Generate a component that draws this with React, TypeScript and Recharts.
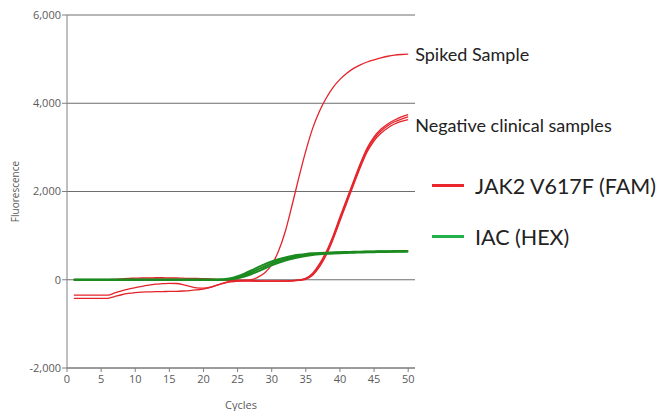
import React from 'react';
import { LineChart, Line, XAxis, YAxis, CartesianGrid, ReferenceDot } from 'recharts';

const cycles = [1,2,3,4,5,6,7,8,9,10,11,12,13,14,15,16,17,18,19,20,21,22,23,24,25,26,27,28,29,30,31,32,33,34,35,36,37,38,39,40,41,42,43,44,45,46,47,48,49,50];

const spiked = [0,0,0,0,0,0,10,20,30,35,40,40,45,45,40,40,35,30,30,25,20,10,0,-20,-30,-20,0,60,160,340,650,1100,1700,2330,2920,3430,3820,4120,4360,4540,4680,4790,4870,4935,4985,5030,5065,5090,5105,5115];

const neg1 = [0,0,0,0,0,0,0,5,5,10,10,10,15,15,10,10,5,5,0,0,-5,-10,-15,-20,-25,-30,-30,-30,-30,-30,-30,-30,-25,-10,30,150,360,640,1000,1420,1830,2240,2640,2990,3240,3410,3530,3620,3690,3740];

const neg2 = [-350,-350,-350,-350,-350,-350,-300,-250,-210,-180,-150,-120,-100,-90,-80,-85,-110,-150,-185,-190,-170,-120,-70,-30,-10,-10,-20,-30,-30,-30,-30,-25,-20,-5,30,130,330,600,960,1380,1790,2200,2600,2950,3200,3370,3490,3580,3640,3690];

const neg3 = [-420,-420,-420,-420,-420,-420,-380,-340,-310,-290,-280,-275,-270,-268,-265,-262,-255,-245,-230,-210,-170,-120,-80,-50,-30,-20,-20,-25,-30,-30,-30,-30,-25,-15,10,100,290,560,920,1330,1740,2150,2550,2900,3150,3320,3440,3530,3590,3630];

const iac1 = [0,0,0,0,0,0,0,0,0,0,0,0,0,0,0,0,0,0,0,0,0,0,0,20,55,105,165,235,305,370,425,470,510,540,565,582,595,604,611,617,622,626,630,633,636,639,641,643,645,647];

const iac2 = [0,0,0,0,0,0,0,0,0,0,0,0,0,0,0,0,0,0,0,0,0,0,10,35,80,140,210,285,355,415,465,505,540,565,585,598,607,614,620,625,629,633,636,639,642,645,647,649,651,653];

const iac3 = [0,0,0,0,0,0,0,0,0,0,0,0,0,0,0,0,0,0,0,0,0,0,0,10,35,75,125,190,260,325,385,435,478,512,540,560,575,587,596,603,609,614,618,622,625,628,631,633,635,638];

const xTicks = [0,5,10,15,20,25,30,35,40,45,50];
const yTicks = [-2000,0,2000,4000,6000];

const legendItems = [
  { name: 'JAK2 V617F (FAM)', color: '#e8262c' },
  { name: 'IAC (HEX)', color: '#22b04a' },
];

const spikedLabel = 'Spiked Sample';
const negLabel = 'Negative clinical samples';
const negLabelValue = 3500;

const data = cycles.map((c, i) => ({
  cycle: c,
  spiked: spiked[i],
  neg1: neg1[i],
  neg2: neg2[i],
  neg3: neg3[i],
  iac1: iac1[i],
  iac2: iac2[i],
  iac3: iac3[i],
}));

const RED = '#e5232a';
const GREEN = '#1b8a1f';
const AXIS = '#808080';
const TICKFONT = { fontSize: 11, fill: '#5a5a5a', fontFamily: 'Open Sans, sans-serif' };

const fmt = (v: number) => v.toLocaleString('en-US');

const YLabel = (props: any) => {
  const vb = props.viewBox;
  const x = vb.x + 15;
  const y = vb.y + vb.height / 2;
  return (
    <text x={x} y={y} transform={`rotate(-90, ${x}, ${y})`} textAnchor="middle" dominantBaseline="central"
      fontSize={10} fill="#5a5a5a" fontFamily="Open Sans, sans-serif">Fluorescence</text>
  );
};

const XLabel = (props: any) => {
  const vb = props.viewBox;
  const x = vb.x + vb.width / 2;
  const y = vb.y + 36;
  return (
    <text x={x} y={y} textAnchor="middle" dominantBaseline="central"
      fontSize={11} fill="#5a5a5a" fontFamily="Open Sans, sans-serif">Cycles</text>
  );
};

const AnnoLabel = (text: string) => (props: any) => {
  const vb = props.viewBox;
  return (
    <text x={vb.x + 7} y={vb.y} dominantBaseline="central" fontSize={18} fill="#222"
      fontFamily="Lato, sans-serif">{text}</text>
  );
};

const LegendBlock = () => (
  <div style={{ position: 'absolute', left: 432, top: 160, width: 232, fontFamily: 'Lato, sans-serif', color: '#222' }}>
    {legendItems.map((it) => (
      <div key={it.name} style={{ display: 'flex', alignItems: 'center', height: 51 }}>
        <span style={{ display: 'inline-block', width: 32, height: 3, background: it.color, marginRight: 11 }} />
        <span style={{ fontSize: 21.5, lineHeight: '24px' }}>{it.name}</span>
      </div>
    ))}
  </div>
);

export default function App() {
  return (
    <div style={{ position: 'absolute', left: 0, top: 0, width: 664, height: 411, background: '#fff' }}>
      <LineChart width={664} height={411} data={data}
        margin={{ top: 15, right: 249, bottom: 13, left: 0 }}>
        <CartesianGrid vertical={false} stroke="#6e6e6e" strokeWidth={1} />
        <XAxis dataKey="cycle" type="number" domain={[0, 51]} ticks={xTicks} allowDataOverflow
          height={30} stroke={AXIS} tickSize={4} tickMargin={3} tick={TICKFONT}
          label={{ content: XLabel }} />
        <YAxis type="number" domain={[-2000, 6000]} ticks={yTicks} width={67} stroke={AXIS}
          tickSize={5} tickMargin={1} tick={TICKFONT} tickFormatter={fmt}
          label={{ content: YLabel }} />
        <Line dataKey="neg3" stroke={RED} strokeWidth={1.3} dot={false} type="monotone" isAnimationActive={false} />
        <Line dataKey="neg2" stroke={RED} strokeWidth={1.3} dot={false} type="monotone" isAnimationActive={false} />
        <Line dataKey="neg1" stroke={RED} strokeWidth={1.3} dot={false} type="monotone" isAnimationActive={false} />
        <Line dataKey="spiked" stroke={RED} strokeWidth={1.3} dot={false} type="monotone" isAnimationActive={false} />
        <Line dataKey="iac3" stroke={GREEN} strokeWidth={2} dot={false} type="monotone" isAnimationActive={false} />
        <Line dataKey="iac2" stroke={GREEN} strokeWidth={2} dot={false} type="monotone" isAnimationActive={false} />
        <Line dataKey="iac1" stroke={GREEN} strokeWidth={2} dot={false} type="monotone" isAnimationActive={false} />
        <ReferenceDot x={50} y={spiked[spiked.length - 1]} r={0} fill="none" stroke="none"
          label={{ content: AnnoLabel(spikedLabel) }} />
        <ReferenceDot x={50} y={negLabelValue} r={0} fill="none" stroke="none"
          label={{ content: AnnoLabel(negLabel) }} />
      </LineChart>
      <LegendBlock />
    </div>
  );
}
